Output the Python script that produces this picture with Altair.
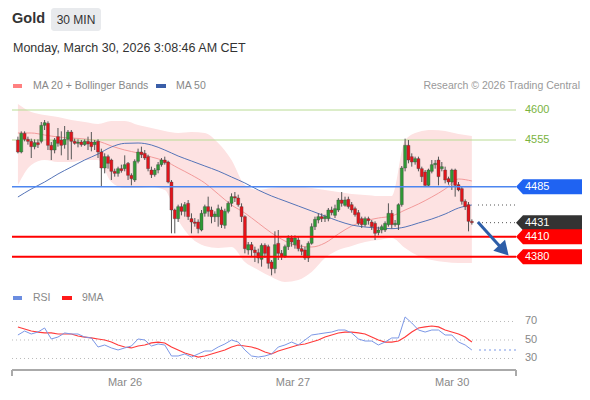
import altair as alt
import pandas as pd

# ---------------- data ----------------
opens = [4555,4537,4565,4556,4553,4545,4551,4553,4577,4580,
         4547,4540,4560,4555,4548,4556,4567,4553,4550,4552,
         4548,4553,4552,4548,4553,4537,4513,4530,4525,4508,
         4505,4512,4512,4520,4502,4495,4523,4537,4535,4530,
         4510,4503,4510,4518,4525,4522,4492,4450,4437,4455,
         4448,4460,4437,4432,4432,4420,4445,4455,4450,4440,
         4440,4450,4427,4448,4460,4470,4468,4455,4440,4390,
         4398,4390,4386,4376,4397,4395,4372,4362,4400,4385,
         4381,4395,4408,4398,4405,4392,4390,4378,4400,4425,
         4435,4440,4437,4437,4450,4442,4450,4465,4457,4466,
         4458,4452,4446,4437,4428,4437,4432,4430,4416,4420,
         4420,4428,4445,4428,4428,4458,4513,4547,4530,4522,
         4527,4512,4507,4487,4508,4518,4525,4512,4510,4497,
         4492,4510,4488,4482,4463,4458,4433]
highs = [4560,4568,4568,4560,4557,4556,4556,4582,4585,4583,
         4552,4558,4573,4568,4576,4570,4570,4557,4556,4555,
         4556,4560,4567,4555,4556,4542,4535,4533,4527,4512,
         4515,4518,4532,4522,4505,4526,4542,4545,4540,4533,
         4515,4513,4522,4528,4530,4524,4495,4452,4458,4460,
         4462,4465,4445,4438,4436,4450,4458,4470,4455,4448,
         4458,4455,4452,4463,4475,4477,4473,4460,4442,4402,
         4402,4395,4392,4400,4400,4398,4375,4418,4420,4390,
         4398,4412,4412,4412,4410,4398,4395,4403,4430,4440,
         4445,4445,4443,4453,4455,4458,4468,4477,4470,4470,
         4462,4455,4450,4440,4440,4440,4435,4433,4425,4428,
         4433,4460,4450,4435,4460,4516,4557,4555,4535,4530,
         4530,4515,4510,4512,4525,4525,4530,4522,4515,4500,
         4512,4512,4492,4485,4466,4462,4436]
lows = [4535,4535,4553,4548,4528,4541,4543,4550,4570,4540,
        4525,4535,4545,4532,4542,4525,4526,4548,4544,4545,
        4546,4540,4538,4540,4528,4486,4505,4512,4495,4500,
        4500,4506,4508,4495,4487,4492,4520,4528,4525,4508,
        4498,4500,4505,4515,4518,4490,4415,4415,4432,4442,
        4440,4435,4415,4425,4415,4418,4440,4440,4430,4432,
        4425,4423,4422,4445,4455,4462,4455,4432,4385,4383,
        4380,4372,4370,4365,4378,4362,4352,4355,4375,4375,
        4378,4390,4395,4392,4388,4382,4375,4372,4398,4420,
        4430,4432,4432,4433,4442,4438,4447,4455,4455,4452,
        4446,4440,4427,4423,4425,4428,4420,4405,4412,4415,
        4417,4425,4422,4425,4420,4455,4508,4520,4515,4518,
        4508,4492,4485,4485,4505,4512,4487,4508,4490,4488,
        4480,4470,4478,4458,4450,4418,4428]
closes = [4537,4565,4556,4553,4545,4551,4548,4577,4581,4547,
          4540,4555,4550,4547,4556,4567,4553,4550,4552,4548,
          4553,4549,4545,4552,4537,4513,4530,4520,4508,4505,
          4512,4509,4518,4502,4497,4523,4537,4533,4528,4512,
          4503,4510,4518,4525,4521,4492,4450,4437,4455,4448,
          4458,4440,4432,4430,4422,4445,4455,4448,4440,4444,
          4452,4428,4448,4460,4470,4468,4458,4440,4392,4398,
          4390,4386,4378,4397,4385,4370,4362,4398,4385,4380,
          4395,4408,4402,4408,4392,4388,4378,4400,4425,4436,
          4440,4437,4440,4450,4446,4452,4465,4460,4465,4455,
          4450,4443,4430,4428,4437,4434,4425,4415,4420,4425,
          4430,4445,4428,4430,4458,4513,4547,4525,4522,4527,
          4512,4500,4487,4510,4518,4520,4500,4515,4495,4492,
          4510,4487,4480,4463,4455,4433,4431]

ma_idx = list(range(0, 137, 4))
ma20 = [4565.5,4565.5,4562.5,4559.5,4558,4556.5,4553.5,4546,4540,4535.5,
        4529.5,4523.5,4513,4502.5,4490.5,4474,4457.5,4445.5,4430.5,4415.5,
        4403.5,4396,4394.5,4400.5,4414,4426,4433.5,4438,4441,4450,
        4459,4469.5,4481.5,4496.5,4493.5]
ma50 = [4469.5,4481.5,4492,4504,4514.5,4525,4534,4544.5,4550,4550.5,
        4547.5,4540,4531,4523.5,4516,4508.5,4499.5,4490.5,4480,4471,
        4463.5,4456,4448.5,4441,4433.5,4427.5,4424.5,4423,4422,4424.5,
        4430.5,4436.5,4444,4453,4457.5]
bb_upper = [4609,4597,4592.5,4589.5,4585,4582,4579,4583.5,4583.5,4577.5,
            4573,4568.5,4565.5,4567,4565.5,4550.5,4525,4487.5,4480,4483,
            4484.5,4484.5,4483,4480,4477,4474,4472.5,4471,4471,4555,
            4567,4570,4568.5,4564,4561]
bb_lower = [4487.5,4517.5,4525,4522,4522,4525,4525,4492,4483,4483,
            4484.5,4480,4435,4408,4396,4393,4394.5,4372,4360,4349.5,
            4342,4345,4357,4378,4390,4396,4402,4405,4408,4393,
            4381,4375,4372,4370.5,4370.5]

rsi_idx = list(range(0, 137, 2))
rsi = [55.4,59.7,56.5,58.6,63.0,51.1,53.2,57.6,56.5,56.5,
       53.2,52.2,42.4,44.6,41.4,39.2,41.4,43.5,51.1,50.0,
       43.5,45.7,44.6,32.7,32.7,34.9,31.6,34.9,38.1,38.1,
       42.4,45.7,50.0,47.8,39.2,32.7,31.6,32.7,34.9,42.4,
       44.6,47.8,44.6,50.0,55.4,56.5,57.6,58.6,60.8,60.8,
       57.6,51.1,48.9,48.9,44.6,47.8,52.2,52.2,74.9,68.4,
       60.8,58.6,60.8,60.8,55.4,55.4,47.8,44.6,39.2]
rsi_ma9 = [64.1,61.9,59.7,58.6,57.6,57.6,56.5,56.5,56.5,54.3,
           53.2,52.2,51.1,50.0,47.8,44.6,42.4,41.4,43.5,44.6,
           46.8,47.8,46.8,42.4,39.2,35.9,33.8,31.6,32.7,34.9,
           37.0,39.2,42.4,44.6,43.5,42.4,40.3,37.0,34.9,38.1,
           40.3,42.4,44.6,45.7,47.8,50.0,53.2,55.4,57.6,58.6,
           58.6,57.6,56.5,53.2,50.0,47.8,47.8,48.9,53.2,58.6,
           63.0,64.1,65.1,64.1,60.8,58.6,56.5,53.2,47.8]
rsi_levels = [70, 50, 30]

green_levels = [4600, 4555]
tag_levels = [4485, 4431, 4410, 4380]
tag_colors = ["#1f63f2", "#333333", "#ff0000", "#ff0000"]
line_levels = [4485, 4410, 4380]
line_colors = ["#4d86f0", "#ff0000", "#ff0000"]
line_widths = [1.5, 2, 2]

arrow_i = [137.8, 145.1]
arrow_p = [4432, 4391.5]
head_i = [145.6]
head_p = [4389.5]

tick_idx = [32.1, 82.4, 130.1]
tick_labels = ["Mar 26", "Mar 27", "Mar 30"]

# ---------------- frames ----------------
candles = pd.DataFrame({"i": list(range(len(opens))), "o": opens, "h": highs,
                        "l": lows, "c": closes})
ma = pd.DataFrame({"i": ma_idx, "ma20": ma20, "ma50": ma50, "up": bb_upper, "lo": bb_lower})
rs = pd.DataFrame({"i": rsi_idx, "rsi": rsi, "ma9": rsi_ma9})
one = pd.DataFrame({"k": [0]})

FONT = "Liberation Sans, Arial, sans-serif"
W, H = 574, 384
X = alt.Scale(domain=[-1.472, 167.5], nice=False, zero=False)
YP = alt.Scale(domain=[4177, 4753], nice=False, zero=False)
YR = alt.Scale(domain=[-6.22, 408.92], nice=False, zero=False)


def xq(f="i"):
    return alt.X(f + ":Q", scale=X, axis=None)


def yp(f):
    return alt.Y(f + ":Q", scale=YP, axis=None)


def yr(f):
    return alt.Y(f + ":Q", scale=YR, axis=None)


def box(x1, x2, y1, y2, color, radius=0):
    return alt.Chart(one).mark_rect(color=color, cornerRadius=radius).encode(
        x=alt.value(x1), x2=alt.value(x2), y=alt.value(y1), y2=alt.value(y2))


def txt(s, x, y, size, color, align="left", weight="normal"):
    return alt.Chart(one).mark_text(text=s, align=align, baseline="middle", fontSize=size,
                                    color=color, font=FONT, fontWeight=weight).encode(
        x=alt.value(x), y=alt.value(y))


def hrule(x1, x2, y, color, width=1, y2=None):
    enc = dict(x=alt.value(x1), x2=alt.value(x2), y=alt.value(y))
    if y2 is not None:
        enc["y2"] = alt.value(y2)
    return alt.Chart(one).mark_rule(color=color, strokeWidth=width).encode(**enc)


layers = []
# header
layers.append(txt("Gold", 4, 11, 14.5, "#333333", weight="bold"))
layers.append(box(43, 93, 0, 23, "#e8eaed", 3))
layers.append(txt("30 MIN", 68, 11.5, 12, "#333333", align="center"))
layers.append(txt("Monday, March 30, 2026 3:08:46 AM CET", 5, 40, 12.5, "#333333"))
# legend row
layers.append(box(5, 14, 76, 80, "#ff8080"))
layers.append(txt("MA 20 + Bollinger Bands", 25, 78, 10.5, "#888888"))
layers.append(box(148, 158, 76, 80, "#3a5ea8"))
layers.append(txt("MA 50", 168, 78, 10.5, "#888888"))
layers.append(txt("Research \u00a9 2026 Trading Central", 572, 78, 10.5, "#999999", align="right"))

# bollinger band + MAs
layers.append(alt.Chart(ma).mark_area(color="#fde2e2", interpolate="monotone").encode(
    x=xq(), y=yp("up"), y2="lo:Q"))
layers.append(alt.Chart(ma).mark_line(color="#f39a9a", strokeWidth=1, interpolate="monotone").encode(
    x=xq(), y=yp("ma20")))
layers.append(alt.Chart(ma).mark_line(color="#5574b8", strokeWidth=1, interpolate="monotone").encode(
    x=xq(), y=yp("ma50")))

# green levels
gdf = pd.DataFrame({"p": green_levels, "t": [str(v) for v in green_levels]})
layers.append(alt.Chart(gdf).mark_rule(color="#b9dc94", strokeWidth=1).encode(
    x=alt.value(4), x2=alt.value(508), y=yp("p")))
layers.append(alt.Chart(gdf).mark_text(align="left", baseline="middle", fontSize=11, color="#7ab33e",
                                       font=FONT).encode(x=alt.value(517), y=yp("p"), text="t:N"))

# candles
layers.append(alt.Chart(candles).mark_rule(color="#555555", strokeWidth=1).encode(
    x=xq(), y=yp("l"), y2="h:Q"))
layers.append(alt.Chart(candles).mark_bar(size=3, stroke="#444444", strokeWidth=0.4).encode(
    x=xq(), y=yp("o"), y2="c:Q",
    color=alt.condition("datum.c >= datum.o", alt.value("#2f9a35"), alt.value("#e3141b"))))

# level lines
ldf = pd.DataFrame({"p": line_levels, "col": line_colors, "w": line_widths})
for k in range(len(line_levels)):
    layers.append(alt.Chart(ldf.iloc[[k]]).mark_rule(color=line_colors[k], strokeWidth=line_widths[k]).encode(
        x=alt.value(4), x2=alt.value(508), y=yp("p")))

# dotted ends (last close, last MA50)
ddf = pd.DataFrame({"p": [closes[-1], ma50[-1]]})
layers.append(alt.Chart(ddf).mark_rule(color="#555555", strokeWidth=1, strokeDash=[1, 3]).encode(
    x=alt.value(470), x2=alt.value(507), y=yp("p")))

# tags
TAG = "M-1,0L-0.797,-0.217L1,-0.217L1,0.217L-0.797,0.217Z"
tdf = pd.DataFrame({"p": tag_levels, "col": tag_colors, "t": [str(v) for v in tag_levels]})
layers.append(alt.Chart(tdf).mark_point(shape=TAG, size=4761, filled=True, opacity=1, strokeWidth=0).encode(
    x=alt.value(542.5), y=yp("p"), color=alt.Color("col:N", scale=None)))
layers.append(alt.Chart(tdf).mark_text(align="left", baseline="middle", fontSize=11, color="white",
                                       font=FONT).encode(x=alt.value(517), y=yp("p"), text="t:N"))

# arrow
adf = pd.DataFrame({"i": arrow_i, "p": arrow_p})
layers.append(alt.Chart(adf).mark_line(color="#2d5ea8", strokeWidth=3).encode(x=xq(), y=yp("p")))
hdf = pd.DataFrame({"i": head_i, "p": head_p})
layers.append(alt.Chart(hdf).mark_point(shape="triangle-up", size=256, angle=137, filled=True,
                                        opacity=1, color="#2d5ea8").encode(x=xq(), y=yp("p")))

# RSI panel
layers.append(box(5, 14, 288, 292, "#6b8de0"))
layers.append(txt("RSI", 25, 290, 10.5, "#888888"))
layers.append(box(54, 64, 288, 292, "#ff1a1a"))
layers.append(txt("9MA", 74, 290, 10.5, "#888888"))
rl = pd.DataFrame({"r": rsi_levels, "t": [str(v) for v in rsi_levels]})
layers.append(alt.Chart(rl).mark_rule(color="#bbbbbb", strokeWidth=1, strokeDash=[1, 3]).encode(
    x=alt.value(4), x2=alt.value(508), y=yr("r")))
layers.append(alt.Chart(rl).mark_text(align="left", baseline="middle", fontSize=11, color="#888888",
                                      font=FONT).encode(x=alt.value(517), y=yr("r"), text="t:N"))
layers.append(alt.Chart(rs).mark_line(color="#ff3b3b", strokeWidth=1.2).encode(x=xq(), y=yr("ma9")))
layers.append(alt.Chart(rs).mark_line(color="#7b97e6", strokeWidth=1).encode(x=xq(), y=yr("rsi")))
rlast = pd.DataFrame({"r": [rsi[-1]]})
layers.append(alt.Chart(rlast).mark_rule(color="#7b97e6", strokeWidth=1.2, strokeDash=[2, 3]).encode(
    x=alt.value(471), x2=alt.value(508), y=yr("r")))

# x axis
layers.append(hrule(4, 508, 362, "#aaaaaa", 2))
layers.append(hrule(4, 4, 362, "#aaaaaa", 2, y2=368))
layers.append(hrule(508, 508, 362, "#aaaaaa", 2, y2=368))
tk = pd.DataFrame({"i": tick_idx, "t": tick_labels})
layers.append(alt.Chart(tk).mark_text(align="center", baseline="middle", fontSize=11, color="#888888",
                                      font=FONT).encode(x=xq(), y=alt.value(374.5), text="t:N"))

chart = alt.layer(*layers).resolve_scale(y="independent").properties(
    width=W, height=H, padding=0, background="white",
    autosize=alt.AutoSizeParams(type="none")
).configure_view(stroke=None)

chart.save("out.html", embed_options={"renderer": "svg", "actions": False})
